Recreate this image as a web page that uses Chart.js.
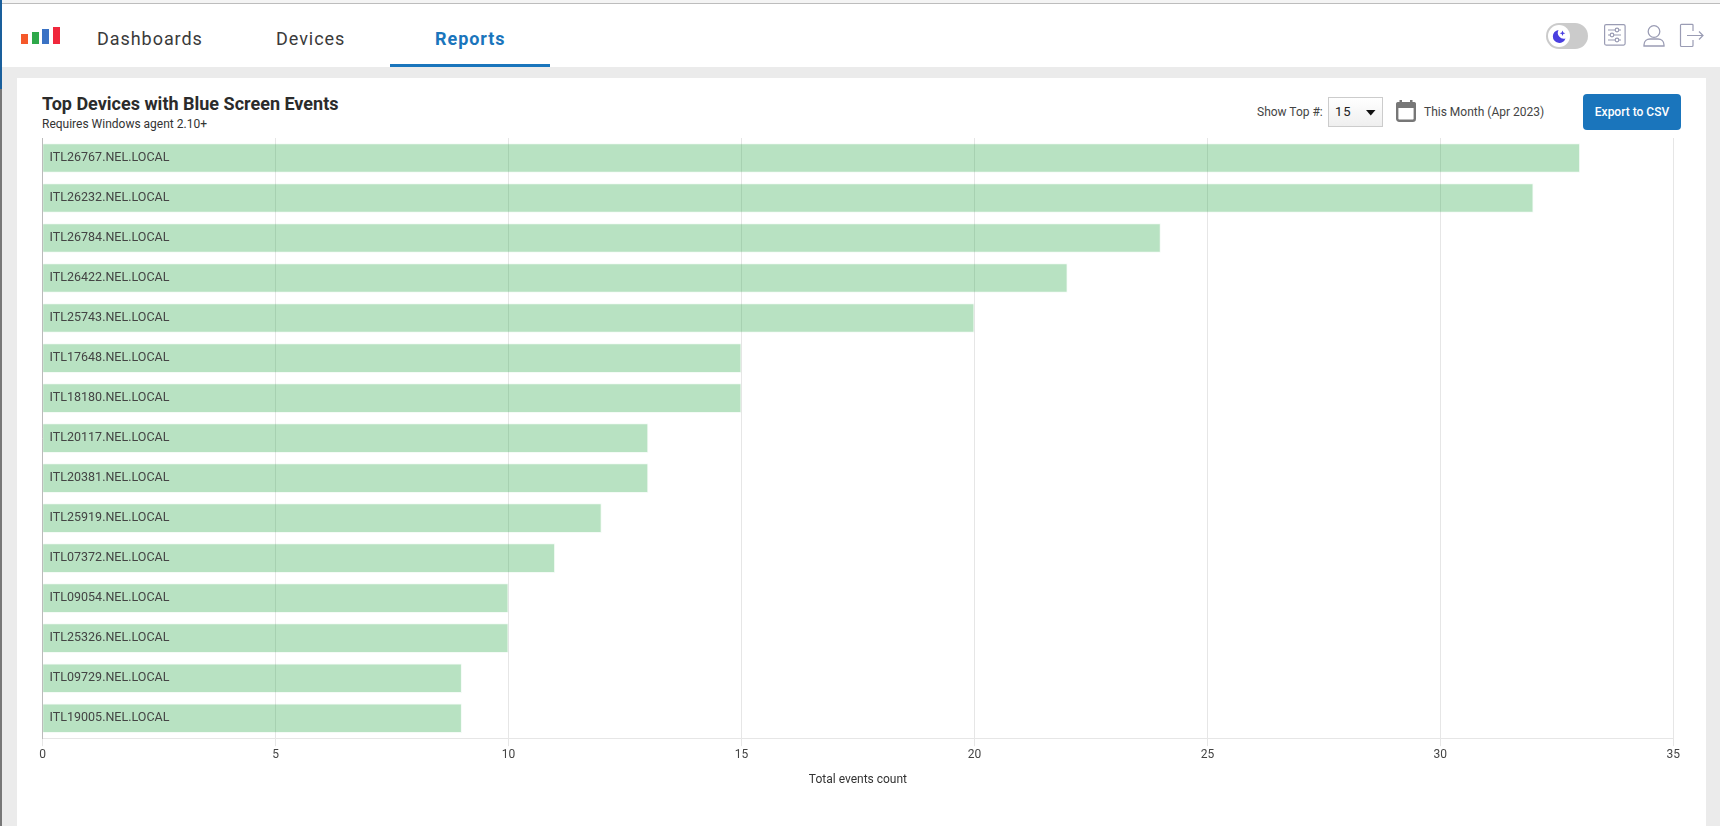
<!DOCTYPE html>
<html>
<head>
<meta charset="utf-8">
<title>Top Devices with Blue Screen Events</title>
<script src="https://cdn.jsdelivr.net/npm/chart.js@4"></script>
<style>
  html, body { margin: 0; padding: 0; }
  body { width: 1720px; height: 826px; overflow: hidden; position: relative; background: #ebebeb; font-family: Roboto, sans-serif; color: #333; }
  .abs { position: absolute; white-space: nowrap; }
  #topline { left: 0; top: 3px; width: 1720px; height: 1px; background: #bdbdbd; }
  #topstrip { left: 0; top: 0; width: 1720px; height: 3px; background: #f4f4f4; }
  #leftline { left: 0; top: 0; width: 2px; height: 826px; background: #777; }
  #leftblue { left: 0; top: 0; width: 2px; height: 89px; background: #1a5f9c; }
  #nav { left: 2px; top: 4px; width: 1718px; height: 63px; background: #fff; }
  #card { left: 17px; top: 78px; width: 1689px; height: 748px; background: #fff; }
  .tab { top: 27px; font-size: 18px; line-height: 24px; letter-spacing: 0.95px; color: #3a3a3a; }
  #underline { left: 390px; top: 64px; width: 160px; height: 3px; background: #1a75bc; }
  .logo { position: absolute; width: 7px; }
  #title { left: 42px; top: 92px; font-size: 18px; line-height: 24px; font-weight: 700; color: #2b2b2b; }
  #sub { left: 42px; top: 116px; font-size: 12px; line-height: 16px; color: #333; }
  .ctl { font-size: 12px; line-height: 16px; color: #444; }
  #select { left: 1328px; top: 97px; width: 53px; height: 28px; border: 1px solid #ccc; background: linear-gradient(#fff, #efefef); }
  #selval { left: 1335px; top: 102px; font-size: 13px; line-height: 20px; letter-spacing: 1px; color: #222; }
  #btn { left: 1583px; top: 94px; width: 98px; height: 36px; line-height: 36px; text-align: center; background: #1a75bc; color: #fff; font-size: 12px; font-weight: 500; border-radius: 4px; }
  #plot { left: 17px; top: 130px; width: 1689px; height: 657px; }
  svg { position: absolute; overflow: visible; }
</style>
</head>
<body>
<div class="abs" id="topstrip"></div>
<div class="abs" id="topline"></div>
<div class="abs" id="nav"></div>
<div class="abs" id="leftline"></div>
<div class="abs" id="leftblue"></div>
<div class="abs" id="card"></div>

<div class="logo" style="left:21px;top:34px;height:10px;background:#f5582a"></div>
<div class="logo" style="left:32px;top:32px;height:12px;background:#2ea84a"></div>
<div class="logo" style="left:42px;top:29px;height:15px;background:#3a72c4"></div>
<div class="logo" style="left:53px;top:27px;height:17px;background:#f0283c"></div>

<div class="abs tab" style="left:97px">Dashboards</div>
<div class="abs tab" style="left:276px">Devices</div>
<div class="abs tab" style="left:435px;color:#1a75bc;font-weight:700">Reports</div>
<div class="abs" id="underline"></div>

<!-- dark mode toggle -->
<svg style="left:1546px;top:23px" width="42" height="26">
  <rect x="0" y="0" width="42" height="26" rx="13" fill="#cbcbcb"/>
  <circle cx="13" cy="13" r="11" fill="#fff"/>
  <path d="M12.5 7 a6.5 6.5 0 1 0 7 8.5 a6 6 0 0 1 -7 -8.5z" fill="#4a3fe0"/>
  <path d="M16.5 7.5 l0.8 2 2 0.8 -2 0.8 -0.8 2 -0.8 -2 -2 -0.8 2 -0.8z" fill="#4a3fe0"/>
</svg>
<!-- settings -->
<svg style="left:1604px;top:24px" width="22" height="22" fill="none" stroke="#9a9cb4" stroke-width="1.2">
  <rect x="0.6" y="0.6" width="20.5" height="20.5" rx="1.5"/>
  <path d="M4 6h13M4 11h13M4 16h13"/>
  <circle cx="13" cy="6" r="1.8" fill="#fff"/><circle cx="8" cy="11" r="1.8" fill="#fff"/><circle cx="13" cy="16" r="1.8" fill="#fff"/>
</svg>
<!-- user -->
<svg style="left:1643px;top:25px" width="22" height="22" fill="none" stroke="#9a9cb4" stroke-width="1.3">
  <circle cx="11" cy="6.5" r="5.8"/>
  <path d="M1 20 c0 -4 3 -6 6 -6 h8 c3 0 6 2 6 6 v1 h-20z"/>
</svg>
<!-- logout -->
<svg style="left:1680px;top:24px" width="24" height="24" fill="none" stroke="#9a9cb4" stroke-width="1.2">
  <path d="M13 7 V1 a0.8 0.8 0 0 0 -0.8 -0.6 H1.5 a1 1 0 0 0 -1 1 V21.5 a1 1 0 0 0 1 1 H12 a1 1 0 0 0 1 -1 V16"/>
  <path d="M7 11.5 H23 M19 7.5 L23 11.5 L19 15.5"/>
</svg>

<div class="abs" id="title">Top Devices with Blue Screen Events</div>
<div class="abs" id="sub">Requires Windows agent 2.10+</div>

<div class="abs ctl" style="left:1257px;top:104px">Show Top #:</div>
<div class="abs" id="select"></div>
<div class="abs" id="selval">15</div>
<svg style="left:1366px;top:110px" width="10" height="6"><path d="M0 0h9.5L4.75 5.5z" fill="#111"/></svg>
<svg style="left:1396px;top:100px" width="20" height="22">
  <rect x="1.2" y="3.2" width="17.6" height="17.6" rx="2" fill="#fff" stroke="#777" stroke-width="2.4"/>
  <rect x="0" y="2" width="20" height="6" rx="2" fill="#777"/>
  <rect x="3.5" y="0" width="2.5" height="4" fill="#777"/><rect x="14" y="0" width="2.5" height="4" fill="#777"/>
</svg>
<div class="abs ctl" style="left:1424px;top:104px">This Month (Apr 2023)</div>
<div class="abs" id="btn">Export to CSV</div>

<div class="abs" id="plot"><canvas id="chart"></canvas></div>

<script>
const devices = [
  "ITL26767.NEL.LOCAL", "ITL26232.NEL.LOCAL", "ITL26784.NEL.LOCAL", "ITL26422.NEL.LOCAL", "ITL25743.NEL.LOCAL",
  "ITL17648.NEL.LOCAL", "ITL18180.NEL.LOCAL", "ITL20117.NEL.LOCAL", "ITL20381.NEL.LOCAL", "ITL25919.NEL.LOCAL",
  "ITL07372.NEL.LOCAL", "ITL09054.NEL.LOCAL", "ITL25326.NEL.LOCAL", "ITL09729.NEL.LOCAL", "ITL19005.NEL.LOCAL"
];
const eventCounts = [33, 32, 24, 22, 20, 15, 15, 13, 13, 12, 11, 10, 10, 9, 9];
const axisMax = 35;
const axisStep = 5;
const axisTitle = "Total events count";

const ctx = document.getElementById("chart").getContext("2d");
new Chart(ctx, {
  type: "bar",
  data: {
    labels: devices,
    datasets: [
      {
        data: eventCounts,
        backgroundColor: "rgba(40, 167, 69, 0.33)",
        borderColor: "rgba(40, 167, 69, 0.05)",
        borderWidth: 1,
        barPercentage: 0.74,
        categoryPercentage: 1,
      },
    ],
  },
  options: {
    indexAxis: "y",
    responsive: true,
    maintainAspectRatio: false,
    animation: false,
    layout: { padding: { left: 25.6, right: 32.7, top: 8, bottom: 0 } },
    plugins: { legend: { display: false }, tooltip: { enabled: false } },
    scales: {
      x: {
        min: 0,
        max: axisMax,
        grid: { color: "#e6e6e6", lineWidth: 1, tickLength: 8 },
        border: { color: "#e6e6e6" },
        ticks: { stepSize: axisStep, color: "#444", font: { family: "Roboto", size: 12 }, padding: 2, maxRotation: 0 },
        title: { display: true, text: axisTitle, color: "#333", font: { family: "Roboto", size: 12 }, padding: { top: 8, bottom: 0 } },
      },
      y: {
        afterFit: (scale) => {
          // the mirrored labels sit inside the plot, so the axis takes no room
          scale.width = 0;
          scale.paddingTop = 0;
          scale.paddingBottom = 0;
        },
        grid: { display: false, drawTicks: false },
        border: { color: "#bbb" },
        ticks: { mirror: true, z: 1, padding: 7, color: "#444", font: { family: "Roboto", size: 12.5 } },
      },
    },
  },
});
</script>
</body>
</html>
